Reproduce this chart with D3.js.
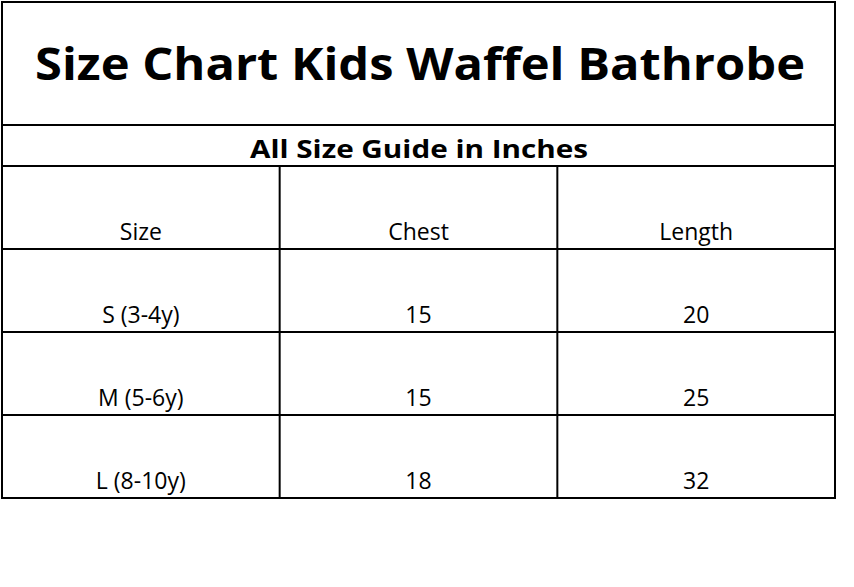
<!DOCTYPE html>
<html><head><meta charset="utf-8">
<script src="https://cdn.jsdelivr.net/npm/d3@7"></script>
<style>body{margin:0;background:#fff}</style>
</head><body>
<script>
const title = "Size Chart Kids Waffel Bathrobe";
const subtitle = "All Size Guide in Inches";
const columns = ["Size", "Chest", "Length"];
const sizes = ["S (3-4y)", "M (5-6y)", "L (8-10y)"];
const chest = [15, 15, 18];
const lengthVals = [20, 25, 32];

const svg = d3.select("body").append("svg").attr("width", 854).attr("height", 587);
const left = 2, right = 835;
const x = d3.scaleBand().domain(columns).range([left, right]);
const rowKeys = ["header"].concat(sizes);
const y = d3.scaleBand().domain(rowKeys).range([166, 498]);
const font = "'Open Sans', sans-serif";

const hl = [2, 125, 166].concat(rowKeys.map(k => y(k) + y.bandwidth()));
svg.selectAll("line.h").data(hl).enter().append("line")
  .attr("x1", left - 1).attr("x2", right + 1).attr("y1", d => d).attr("y2", d => d)
  .attr("stroke", "#000").attr("stroke-width", 2);
svg.selectAll("line.v").data([left, right]).enter().append("line")
  .attr("x1", d => d).attr("x2", d => d).attr("y1", 2).attr("y2", 498)
  .attr("stroke", "#000").attr("stroke-width", 2);
svg.selectAll("line.c").data(columns.slice(1)).enter().append("line")
  .attr("x1", d => x(d)).attr("x2", d => x(d)).attr("y1", 166).attr("y2", 498)
  .attr("stroke", "#000").attr("stroke-width", 2);

svg.append("text").attr("x", 420).attr("y", 80).attr("text-anchor", "middle")
  .attr("textLength", 770).attr("lengthAdjust", "spacingAndGlyphs")
  .style("font-family", font).style("font-weight", "bold").style("font-size", "44px").text(title);
svg.append("text").attr("x", 419).attr("y", 158).attr("text-anchor", "middle")
  .attr("textLength", 338).attr("lengthAdjust", "spacingAndGlyphs")
  .style("font-family", font).style("font-weight", "bold").style("font-size", "25px").text(subtitle);

const rows = [columns].concat(sizes.map((s, i) => [s, chest[i], lengthVals[i]]));
rows.forEach((r, i) => {
  r.forEach((v, j) => {
    svg.append("text")
      .attr("x", x(columns[j]) + x.bandwidth() / 2)
      .attr("y", y(rowKeys[i]) + y.bandwidth() - 9)
      .attr("text-anchor", "middle")
      .style("font-family", font).style("font-size", "23px").text(v);
  });
});
</script>
</body></html>
